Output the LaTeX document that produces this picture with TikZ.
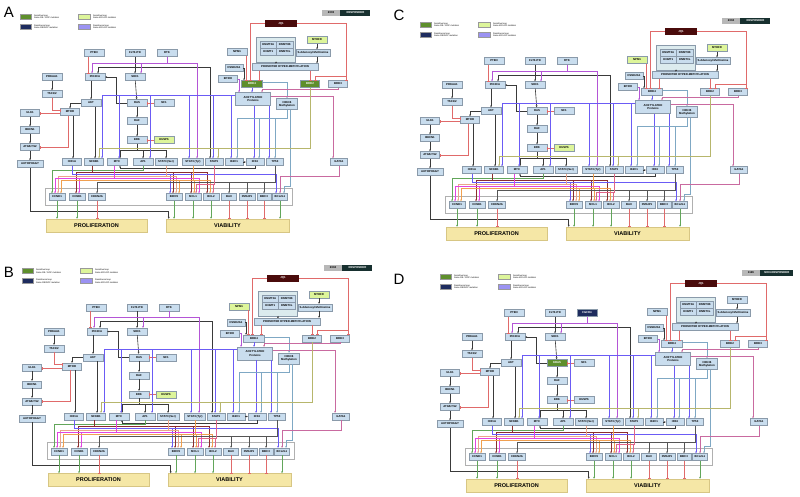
\documentclass[tikz,border=0pt]{standalone}
\usepackage{fontspec}
\setmainfont{Liberation Sans}
\usepackage{xcolor}
\usetikzlibrary{arrows.meta,positioning}

\definecolor{genebg}{HTML}{C9DDEE}
\definecolor{genebd}{HTML}{8A9AAA}
\definecolor{sensgreen}{HTML}{5E8F2C}
\definecolor{kdgreen}{HTML}{DDF59A}
\definecolor{resnavy}{HTML}{1E2C5E}
\definecolor{lav}{HTML}{9B92F2}
\definecolor{jqfill}{HTML}{4A0B0B}
\definecolor{hdrgray}{HTML}{B8B8B8}
\definecolor{hdrteal}{HTML}{17302F}
\definecolor{dnmtbg}{HTML}{DCEBEE}
\definecolor{phenobg}{HTML}{F5E7A6}
\definecolor{phenobd}{HTML}{D7C684}
\definecolor{grpbd}{HTML}{B0B0B0}
\definecolor{lnblack}{HTML}{3A3A3A}
\definecolor{inhred}{HTML}{E06A6A}
\definecolor{lnviolet}{HTML}{6B5BF5}
\definecolor{lnpurple}{HTML}{B455D6}
\definecolor{lnmag}{HTML}{E244E2}
\definecolor{lnsteel}{HTML}{7FA8C4}
\definecolor{lnpink}{HTML}{C96AA0}
\definecolor{lnolive}{HTML}{B7B66C}
\definecolor{lngreen}{HTML}{62A65A}
\definecolor{lnbrown}{HTML}{8C2D2D}
\definecolor{lnsalmon}{HTML}{EBA58A}
\definecolor{lnorange}{HTML}{F0A050}
\definecolor{lnrose}{HTML}{E06688}
\definecolor{lndgray}{HTML}{555555}

\newcommand{\genefont}{\fontsize{2.8}{3.1}\selectfont\bfseries}

\tikzstyle{gene} = [rectangle, draw=genebd, fill=genebg, line width=0.4,
    minimum height=7, inner sep=0.3, font=\genefont, text=black]
\tikzstyle{sens} = [gene, fill=sensgreen, text=white]
\tikzstyle{kd} = [gene, fill=kdgreen]
\tikzstyle{resist} = [gene, fill=resnavy, text=white]
\tikzstyle{pheno} = [rectangle, draw=phenobd, fill=phenobg, line width=0.5,
    minimum height=13, font=\fontsize{5.5}{6}\selectfont\bfseries]
\tikzstyle{act} = [draw, line width=0.6, -{Stealth[length=2pt,width=1.8pt]}]
\tikzstyle{inh} = [draw=inhred, line width=0.6, -{Bar[width=3pt]}]
\tikzset{
    npmbox/.style={gene}, mthfrbox/.style={gene}, dusbox/.style={gene},
    brdfourbox/.style={gene}, brdtwobox/.style={gene},
    rtkbox/.style={gene}, rasbox/.style={gene},
    lgtext/.style={anchor=west, align=left, inner sep=0, font=\fontsize{2.2}{2.5}\selectfont},
    letter/.style={font=\fontsize{15}{15}\selectfont, inner sep=0}
}

% one network panel: #1 sample id, #2 status, #3 receptor, #4 ras node
\newcommand{\netpanel}[4]{%
    % legend
    \filldraw[sensgreen, draw=black!40, line width=0.3] (20,14) rectangle (31,19);
    \filldraw[resnavy, draw=black!40, line width=0.3] (20,24) rectangle (31,29);
    \filldraw[kdgreen, draw=black!40, line width=0.3] (78,14) rectangle (90,19);
    \filldraw[lav, draw=black!40, line width=0.3] (78,24) rectangle (90,29);
    \node[lgtext] (lga) at (34,16.5) {Sensitive loop\\Gene OE / GOF mutation};
    \node[lgtext] (lgb) at (34,26.5) {Resistance loop\\Gene OE/GOF mutation};
    \node[lgtext] (lgc) at (93,16.5) {Sensitive loop\\Gene KD/LOF mutation};
    \node[lgtext] (lgd) at (93,26.5) {Resistance loop\\Gene KD/LOF mutation};
    % header
    \node[gene, draw=none, fill=hdrgray, minimum width=18, minimum height=6] (hid) at (331,13) {#1};
    \node[gene, draw=none, fill=hdrteal, text=white, minimum width=30, minimum height=6,
          inner xsep=4, right=0pt of hid] (hst) {#2};
    % boxes behind
    \filldraw[fill=white, draw=grpbd, line width=0.5] (45,188) rectangle (292,205);
    \filldraw[fill=dnmtbg, draw=genebd, line width=0.4] (256,37) rectangle (295,62);
    % signalling nodes
    \node[gene, minimum width=20] (pten) at (94,53) {PTEN};
    \node[gene, minimum width=20] (flt) at (135,53) {FLT3-ITD};
    \node[rtkbox, minimum width=20] (rtk) at (167,53) {#3};
    \node[gene, minimum width=20] (prkaa) at (52,77) {PRKAA1};
    \node[gene, minimum width=20] (pik) at (95,77) {PIK3CA};
    \node[gene, minimum width=20] (shc) at (135,77) {SHC1};
    \node[gene, minimum width=20] (tsc) at (52,94) {TSC1/2};
    \node[gene, minimum width=20] (akt) at (91,103) {AKT};
    \node[rasbox, minimum width=20] (ras) at (137,103) {#4};
    \node[gene, minimum width=20] (nf) at (164,103) {NF1};
    \node[gene, minimum width=19] (mtor) at (70,112) {MTOR};
    \node[gene, minimum width=19] (ulk) at (30,113) {ULK1};
    \node[gene, minimum width=20] (raf) at (137,121) {RAF};
    \node[gene, minimum width=19] (becn) at (30,130) {BECN1};
    \node[gene, minimum width=19] (atg) at (30,147) {ATG5/7/12};
    \node[gene, minimum width=26] (auto) at (30,164) {AUTOPHAGY};
    \node[gene, minimum width=20] (erk) at (137,140) {ERK};
    \node[dusbox, minimum width=20] (dusp) at (164,140) {DUSP6};
    % transcription factors
    \node[gene, minimum width=19] (hif) at (72,162) {HIF1A};
    \node[gene, minimum width=19] (nfkb) at (94,162) {NFKB1};
    \node[gene, minimum width=20] (myc) at (117,162) {MYC};
    \node[gene, minimum width=20] (ap) at (143,162) {AP1};
    \node[gene, minimum width=22] (stss) at (166,162) {STAT3 (Ser)};
    \node[gene, minimum width=21] (stty) at (193,162) {STAT3 (Tyr)};
    \node[gene, minimum width=18] (stf) at (214,162) {STAT5};
    \node[gene, minimum width=18] (ikz) at (234,162) {IKZF1};
    \node[gene, minimum width=18] (irf) at (255,162) {IRF4};
    \node[gene, minimum width=17] (tp) at (275,162) {TP53};
    \node[gene, minimum width=17] (gata) at (339,162) {GATA1};
    % targets
    \node[gene, minimum width=16] (ccnd) at (57,197) {CCND1};
    \node[gene, minimum width=16] (ccne) at (77,197) {CCNE1};
    \node[gene, minimum width=17] (cdkn) at (97,197) {CDKN2A};
    \node[gene, minimum width=16] (birc) at (174,197) {BIRC5};
    \node[gene, minimum width=16] (mcl) at (193,197) {MCL1};
    \node[gene, minimum width=16] (bcltwo) at (211,197) {BCL2};
    \node[gene, minimum width=15] (bax) at (229,197) {BAX};
    \node[gene, minimum width=16] (pmaip) at (247,197) {PMAIP1};
    \node[gene, minimum width=14] (bbc) at (264,197) {BBC3};
    \node[gene, minimum width=15] (bclxl) at (280,197) {BCL2L1};
    \node[pheno, minimum width=101] (prolif) at (96.5,225.5) {PROLIFERATION};
    \node[pheno, minimum width=123] (viab) at (227.5,225.5) {VIABILITY};
    % epigenetic part
    \node[gene, fill=jqfill, draw=none, text=white, minimum width=32] (jq) at (281,23.5) {JQ1};
    \node[gene, minimum width=16.5] (dnma) at (268.3,44.5) {DNMT3A};
    \node[gene, minimum width=16.5] (dnmb) at (284.8,44.5) {DNMT3B};
    \node[gene, minimum width=16.5] (dnmo) at (268.3,51.5) {DNMT1};
    \node[gene, minimum width=16.5] (dnml) at (284.8,51.5) {DNMT3L};
    \node[mthfrbox, minimum width=20] (mthfr) at (317,40) {MTHFR};
    \node[gene, minimum width=34] (sam) at (313,53) {S-Adenosyl Methionine};
    \node[gene, minimum width=66] (prom) at (285,67) {PROMOTER HYPER-METHYLATION};
    \node[npmbox, minimum width=20] (npm) at (237,52) {NPM1};
    \node[gene, minimum width=18] (csnk) at (234,68) {CSNK2A1};
    \node[gene, minimum width=19] (ep) at (228,79) {EP300};
    \node[brdfourbox, minimum width=21] (brdf) at (252,84) {BRD4};
    \node[brdtwobox, minimum width=19] (brdt) at (310,84) {BRD2};
    \node[gene, minimum width=19] (brdh) at (338,84) {BRD3};
    \node[gene, minimum width=35, minimum height=13, align=center] (acet) at (253,99) {ACETYLATED\\Proteins};
    \node[gene, minimum width=21, minimum height=11, align=center] (hmet) at (287,104) {H3K36\\Methylation};

    % upstream signalling
    \draw[inh] ([xshift=-6]pten.south) -- ([xshift=-7]pik.north);
    \draw[act, lnblack] (flt.south) -- (shc.north);
    \draw[act, lnblack] (135,67) -| ([xshift=3]pik.north);
    \draw[act, lnblack] (135,67) -| ([xshift=-4]stf.north);
    \draw[act, lnpurple] (rtk.south) -- (167,63) -| ([xshift=-3]pik.north);
    \draw[act, lnpurple] (167,63) -| ([xshift=6]shc.north);
    \draw[act, lnpurple] (167,63) -| ([xshift=4]stty.north);
    \draw[act, lnblack] (shc) -- (ras);
    \draw[act, lnblack] (ras.west) -- (116,103) |- (pik.east);
    \draw[inh] (nf) -- (ras);
    \draw[act, lnblack] (ras) -- (raf);
    \draw[act, lnblack] (raf) -- (erk);
    \draw[inh] (dusp) -- (erk);
    \draw[act, lnblack] (erk.south) -- (137,150) -| ([xshift=3]myc.north);
    \draw[act, lnblack] (137,150) -| (ap.north);
    \draw[act, lnblack] (137,150) -| (stss.north);
    \draw[act, lnblack] (pik.south -| akt) -- (akt.north);
    \draw[act, lnblack] (akt.west) -| (mtor.north);
    \draw[act, lnblack] (prkaa) -- (tsc);
    \draw[inh] (tsc.south) |- ([yshift=2]mtor.west);
    \draw[inh] ([yshift=-1.5]mtor.west) -- ([yshift=-0.5]ulk.east);
    \draw[inh] ([xshift=-2]mtor.south) |- (atg.east);
    \draw[act, lnblack] (ulk) -- (becn);
    \draw[act, lnblack] (becn) -- (atg);
    \draw[act, lnblack] (atg) -- (auto);
    \draw[act, lnblack] (auto.south) -- (30,211) -| ([xshift=3]viab.north west);
    \draw[act, lnblack] ([xshift=3]mtor.south) -- ([xshift=1]hif.north);
    \draw[act, lnblack] ([xshift=4]akt.south) -- ([xshift=1]nfkb.north);

    % epigenetic control
    \draw[act, lnblack] (dnmo.south east |- 0,62) -- ([xshift=-10]prom.north);
    \draw[act, lnblack] (mthfr) -- (mthfr |- sam.north);
    \draw[act, lnblack] (sam.south -| mthfr) -- (prom.north -| mthfr);
    \draw[inh] (jq.west) -| ([xshift=-2]brdf.north);
    \draw[inh] (jq.east) -| ([xshift=8]brdh.north);
    \draw[inh] (346,76) -| ([xshift=5]brdt.north);
    \draw[inh] ([xshift=-26]prom.south) -- ([xshift=7]brdf.north);
    \draw[inh] ([xshift=25]prom.south) -- (brdt.north);
    \draw[inh] ([xshift=9]npm.south) -- ([xshift=-6]brdf.north);
    \draw[act, lnblack] (csnk.east) -| ([xshift=-8]brdf.north);
    \draw[act, lnpurple] (ep.east) -| ([xshift=-14]acet.north);
    \draw[act, lnviolet] (brdf.south) -- ([xshift=-1]acet.north);
    \draw[act, lnsteel] ([yshift=1.5]brdf.east) -| (hmet.north);
    \draw[act, lnpink] (brdh.south) -- (338,89) -| ([xshift=9]acet.north);
    \draw[act, lnpink] ([yshift=3]acet.east) -| ([xshift=-6]gata.north);

    % acetylation and methylation outputs
    \draw[act, lnviolet] ([yshift=4]acet.west) -| ([xshift=8]nfkb.north);
    \draw[act, lnviolet] ([yshift=4]acet.west) -| ([xshift=2]myc.north);
    \draw[act, lnviolet] ([yshift=4]acet.west) -| ([xshift=7]ap.north);
    \draw[act, lnviolet] ([yshift=4]acet.west) -| ([xshift=-4]stty.north);
    \draw[act, lnviolet] ([yshift=4]acet.west) -| ([xshift=-1]stf.north);
    \draw[act, lnviolet] ([yshift=4]acet.west) -| ([xshift=-3]ikz.north);
    \draw[act, lnviolet] ([xshift=1]acet.south) -- ([xshift=-1]irf.north);
    \draw[act, lnviolet] ([xshift=16]acet.south) -- ([xshift=-6]tp.north);
    \draw[act, lnsteel] (hmet.south) -- (287,118) -| ([xshift=3]ikz.north);
    \draw[act, lnsteel] (287,118) -| ([xshift=4]irf.north);
    \draw[act, lnsteel] (287,118) -| (tp.north);
    \draw[act, lnsteel] ([xshift=3]hmet.south) -- (290,186) -| ([xshift=4]bclxl.north);
    \draw[act, lnolive] (brdt.south) -- (310,148) -| ([xshift=5]nfkb.north);
    \draw[act, lnolive] (310,148) -| ([xshift=4]stf.north);
    \draw[act, lnblack] (ikz) -- (irf);

    % transcriptional targets
    \draw[act, lnblack] (irf.south) -- (255,168.5) -| ([xshift=3]myc.south);
    \draw[act, lngreen] (ap.south) -- (143,170) -| ([xshift=-5]ccnd.north);
    \draw[act, lnbrown] ([xshift=-2]nfkb.south) -- (92,172) -| ([xshift=-1]ccne.north);
    \draw[act, lnbrown] (92,172) -| ([xshift=-1]birc.north);
    \draw[act, lnbrown] (92,172) -| ([xshift=-2]mcl.north);
    \draw[act, lnbrown] (92,172) -| ([xshift=-4]bcltwo.north);
    \draw[act, lnviolet] (hif.south) -- (72,174) -| ([xshift=-4]birc.north);
    \draw[act, lnviolet] (72,174) -| ([xshift=-4]bclxl.north);
    \draw[act, lnsalmon] (stss.south) -- (166,176) -| ([xshift=1]ccnd.north);
    \draw[act, lnsalmon] (166,176) -| ([xshift=2]birc.north);
    \draw[act, lnpink] (gata.south) -- (339,176) -| (bclxl.north);
    \draw[act, lnmag] ([xshift=-3]myc.south) -- (114,178) -| ([xshift=-2]ccnd.north);
    \draw[act, lnmag] (114,178) -| ([xshift=2]ccne.north);
    \draw[act, lnmag] (114,178) -| ([xshift=6]mcl.north);
    \draw[act, lnorange] (stty.south) -- (193,180) -| ([xshift=4]ccnd.north);
    \draw[act, lnorange] (193,180) -| ([xshift=5]birc.north);
    \draw[act, lnorange] (193,180) -| ([xshift=1]mcl.north);
    \draw[act, lnorange] (193,180) -| ([xshift=-1]bcltwo.north);
    \draw[act, lndgray] (tp.south) -- (275,182) -| (cdkn.north);
    \draw[act, lndgray] (275,182) -| (bax.north);
    \draw[act, lndgray] (275,182) -| (pmaip.north);
    \draw[act, lndgray] (275,182) -| (bbc.north);
    \draw[act, lnrose] (stf.south) -- (214,184) -| ([xshift=3]mcl.north);
    \draw[act, lnrose] (214,184) -| ([xshift=2]bcltwo.north);

    % phenotypes
    \draw[act, lngreen] (ccnd.south) -- (ccnd |- prolif.north);
    \draw[act, lngreen] (ccne.south) -- (ccne |- prolif.north);
    \draw[inh] (cdkn.south) -- (cdkn |- prolif.north);
    \draw[act, lngreen] (birc.south) -- (birc |- viab.north);
    \draw[act, lngreen] (mcl.south) -- (mcl |- viab.north);
    \draw[act, lngreen] (bcltwo.south) -- (bcltwo |- viab.north);
    \draw[inh] (bax.south) -- (bax |- viab.north);
    \draw[inh] (pmaip.south) -- (pmaip |- viab.north);
    \draw[inh] (bbc.south) -- (bbc |- viab.north);
    \draw[act, lngreen] (bclxl.south) -- (bclxl |- viab.north);
}

\begin{document}
\begin{tikzpicture}[x=1pt, y=-1pt]
    \useasboundingbox (0,0) rectangle (800,496);
    \fill[white] (0,0) rectangle (800,496);

    % panel A
    \begin{scope}[brdfourbox/.style={sens}, brdtwobox/.style={sens},
                  mthfrbox/.style={kd}, dusbox/.style={kd}]
        \netpanel{2303}{RESPONDER}{RTK}{RAS}
    \end{scope}
    % panel B
    \begin{scope}[shift={(2,254.5)}, npmbox/.style={kd},
                  mthfrbox/.style={kd}, dusbox/.style={kd}]
        \netpanel{2304}{RESPONDER}{RTK}{RAS}
    \end{scope}
    % panel C
    \begin{scope}[shift={(400,8)}, npmbox/.style={kd},
                  mthfrbox/.style={kd}, dusbox/.style={kd}]
        \netpanel{2304}{RESPONDER}{RTK}{RAS}
    \end{scope}
    % panel D
    \begin{scope}[shift={(420,260)}, rtkbox/.style={resist}, rasbox/.style={sens}]
        \netpanel{1126}{NON-RESPONDER}{FGFR4}{KRAS}
    \end{scope}

    \node[letter] (la) at (9,12) {A};
    \node[letter] (lb) at (9,272) {B};
    \node[letter] (lc) at (399,15) {C};
    \node[letter] (ld) at (399,279) {D};
\end{tikzpicture}
\end{document}
